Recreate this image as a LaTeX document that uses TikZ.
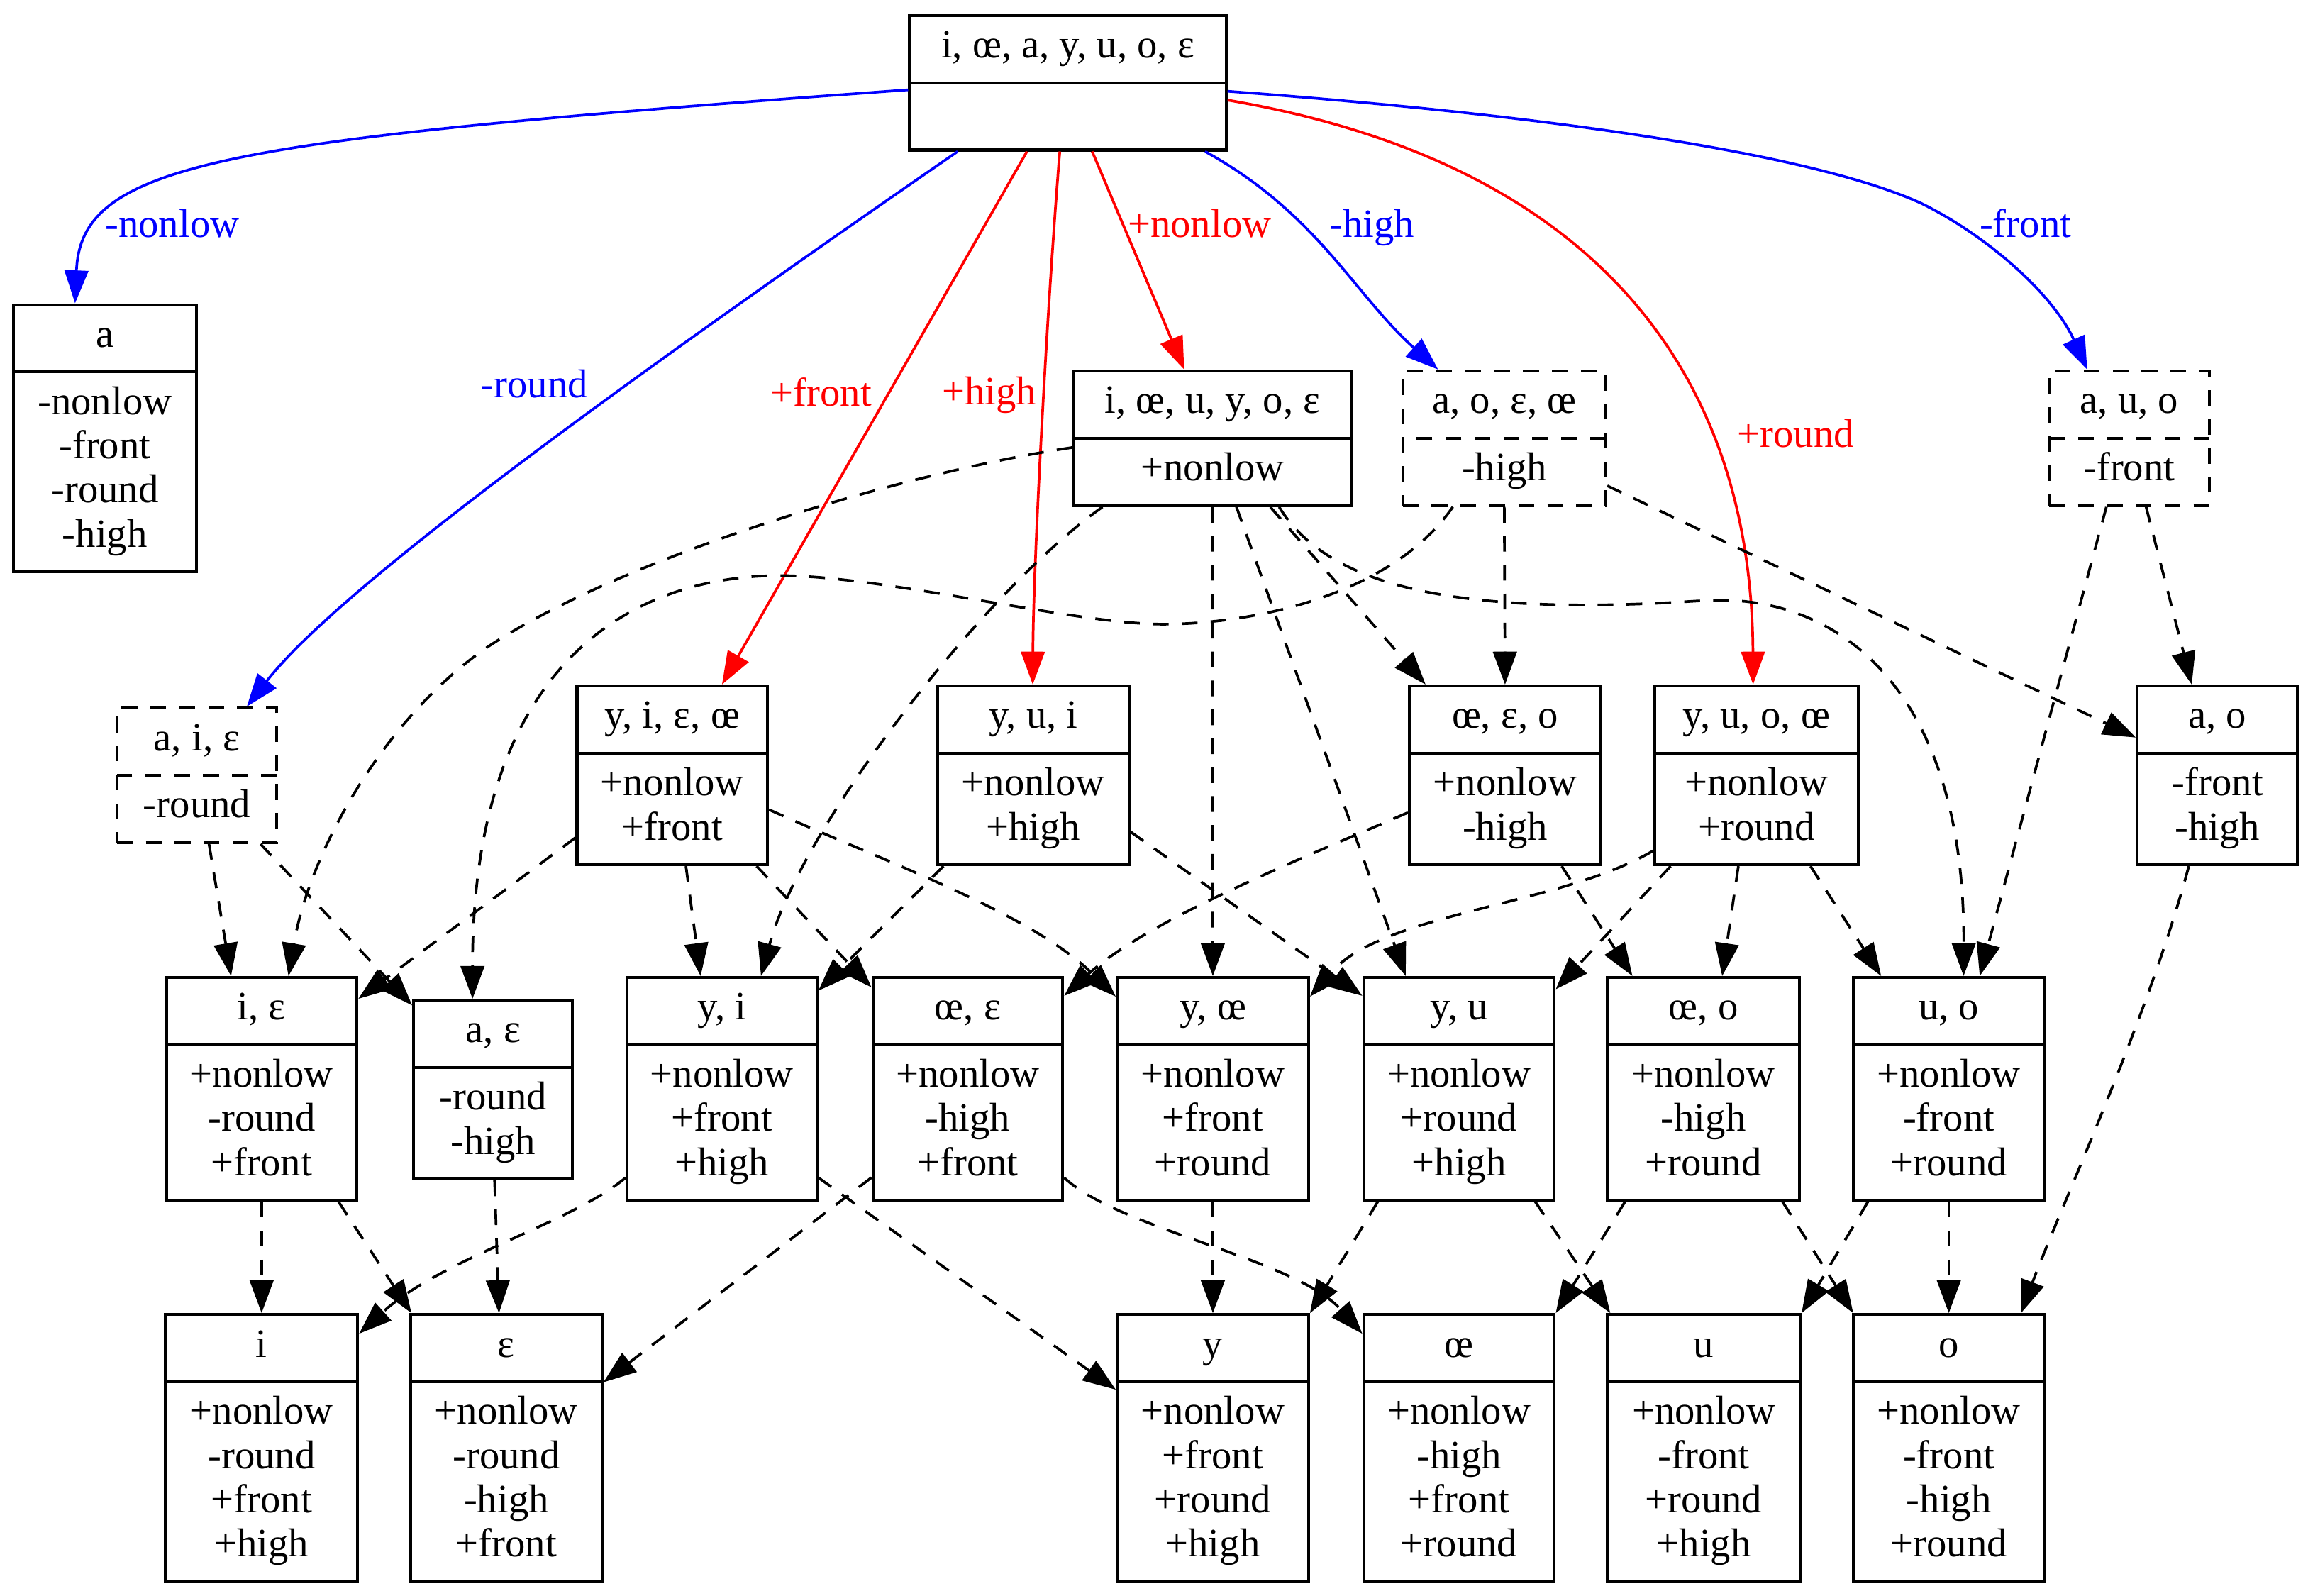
\documentclass[tikz,border=0pt]{standalone}
\usepackage{fontspec}
\setmainfont{Liberation Serif}
\usetikzlibrary{shapes.multipart,arrows.meta,calc}
\begin{document}
\begin{tikzpicture}[x=0.56pt,y=-0.56pt,
  every node/.style={font=\fontsize{15.3}{16.8}\selectfont},
  rec/.style={draw, line width=1.1pt, rectangle split, rectangle split parts=2,
    align=center, inner xsep=2pt, inner ysep=3.85pt, anchor=north west,
    minimum width=#1*0.56pt},
  drec/.style={rec=#1, dash pattern=on 6pt off 5pt},
  e/.style={line width=1pt, -{Triangle[length=12.5pt,width=9pt]}},
  de/.style={e, dash pattern=on 6pt off 5pt},
  bl/.style={e, blue},
  rd/.style={e, red},
  lbl/.style={anchor=base},
]
\useasboundingbox (0,0) rectangle (1568,1084);

% nodes
\node[rec=215] (T) at (617,9.5) {\strut i, œ, a, y, u, o, ε\nodepart{two}\strut};
\node[rec=124.5] (A) at (8,206) {\strut a\nodepart{two}\strut-nonlow\\\strut-front\\\strut-round\\\strut-high};
\node[rec=188.5] (N) at (728.5,251) {\strut i, œ, u, y, o, ε\nodepart{two}\strut+nonlow};
\node[drec=138] (Hm) at (952,251) {\strut a, o, ε, œ\nodepart{two}\strut-high};
\node[drec=109] (Fm) at (1391,251) {\strut a, u, o\nodepart{two}\strut-front};
\node[drec=108.5] (Rm) at (78.5,480) {\strut a, i, ε\nodepart{two}\strut-round};
\node[rec=129.5] (P1) at (391,465) {\strut y, i, ε, œ\nodepart{two}\strut+nonlow\\\strut+front};
\node[rec=130] (P2) at (636,465) {\strut y, u, i\nodepart{two}\strut+nonlow\\\strut+high};
\node[rec=130] (P3) at (956.5,465) {\strut œ, ε, o\nodepart{two}\strut+nonlow\\\strut-high};
\node[rec=138.5] (P4) at (1123,465) {\strut y, u, o, œ\nodepart{two}\strut+nonlow\\\strut+round};
\node[rec=109] (AO) at (1451,465) {\strut a, o\nodepart{two}\strut-front\\\strut-high};
\node[rec=129.5] (IE) at (112,663) {\strut i, ε\nodepart{two}\strut+nonlow\\\strut-round\\\strut+front};
\node[rec=108] (AE) at (280,678.5) {\strut a, ε\nodepart{two}\strut-round\\\strut-high};
\node[rec=129] (YI) at (425,663) {\strut y, i\nodepart{two}\strut+nonlow\\\strut+front\\\strut+high};
\node[rec=129] (OEE) at (592,663) {\strut œ, ε\nodepart{two}\strut+nonlow\\\strut-high\\\strut+front};
\node[rec=130] (YOE) at (758,663) {\strut y, œ\nodepart{two}\strut+nonlow\\\strut+front\\\strut+round};
\node[rec=129.5] (YU) at (925.5,663) {\strut y, u\nodepart{two}\strut+nonlow\\\strut+round\\\strut+high};
\node[rec=130.5] (OEO) at (1091,663) {\strut œ, o\nodepart{two}\strut+nonlow\\\strut-high\\\strut+round};
\node[rec=130] (UO) at (1258,663) {\strut u, o\nodepart{two}\strut+nonlow\\\strut-front\\\strut+round};
\node[rec=130.5] (I) at (111.5,892) {\strut i\nodepart{two}\strut+nonlow\\\strut-round\\\strut+front\\\strut+high};
\node[rec=130] (E) at (278,892) {\strut ε\nodepart{two}\strut+nonlow\\\strut-round\\\strut-high\\\strut+front};
\node[rec=130] (Y) at (758,892) {\strut y\nodepart{two}\strut+nonlow\\\strut+front\\\strut+round\\\strut+high};
\node[rec=129.5] (OE) at (925.5,892) {\strut œ\nodepart{two}\strut+nonlow\\\strut-high\\\strut+front\\\strut+round};
\node[rec=131] (U) at (1091,892) {\strut u\nodepart{two}\strut+nonlow\\\strut-front\\\strut+round\\\strut+high};
\node[rec=130] (O) at (1258,892) {\strut o\nodepart{two}\strut+nonlow\\\strut-front\\\strut-high\\\strut+round};

% coloured edges
\draw[bl] ($(T.north west)+(0,51.5)$) .. controls (150,95) and (55,110) .. ($(A.north west)+(43,0)$);
\node[lbl,blue] (lnl) at (117,161) {-nonlow};
\draw[bl] ($(T.south west)+(33.6,0)$) .. controls (420,262) and (230,400) .. ($(Rm.north west)+(89.2,0)$);
\node[lbl,blue] (lrd) at (363,270) {-round};
\draw[rd] ($(T.south west)+(80.7,0)$) -- ($(P1.north west)+(99.5,0)$);
\node[lbl,red] (lfr) at (558,276) {+front};
\draw[rd] ($(T.south west)+(103,0)$) .. controls (712,200) and (702,380) .. ($(P2.north west)+(65.6,0)$);
\node[lbl,red] (lhi) at (672,275) {+high};
\draw[rd] ($(T.south west)+(125,0)$) -- ($(N.north west)+(76,0)$);
\node[lbl,red] (lnn) at (815,161) {+nonlow};
\draw[bl] ($(T.south west)+(201.7,0)$) .. controls (895,145) and (920,200) .. ($(Hm.north west)+(25,0)$);
\node[lbl,blue] (lhm) at (932,161) {-high};
\draw[rd] ($(T.north east)+(0,58.5)$) .. controls (1080,110) and (1190,250) .. ($(P4.north west)+(68,0)$);
\node[lbl,red] (lro) at (1220,304) {+round};
\draw[bl] ($(T.north east)+(0,52.5)$) .. controls (1050,78) and (1230,104) .. (1305,138) .. controls (1350,160) and (1395,200) .. ($(Fm.north west)+(27,0)$);
\node[lbl,blue] (lfm) at (1376,161) {-front};

% dashed edges, upper levels
\draw[de] ($(N.north west)+(0,53)$) .. controls (620,320) and (430,375) .. (332,439) .. controls (260,488) and (210,580) .. ($(IE.north west)+(84,0)$);
\draw[de] ($(N.south west)+(20.5,0)$) .. controls (670,400) and (545,560) .. ($(YI.north west)+(92,0)$);
\draw[de] (N.south) -- (YOE.north);
\draw[de] ($(N.south west)+(111.5,0)$) -- ($(YU.north west)+(29.5,0)$);
\draw[de] ($(N.south west)+(134.5,0)$) -- ($(P3.north west)+(12,0)$);
\draw[de] ($(N.south west)+(140.5,0)$) .. controls (900,395) and (980,420) .. (1157,408) .. controls (1250,402) and (1335,470) .. ($(UO.north west)+(76,0)$);
\draw[de] (Hm.south) -- (P3.north);
\draw[de] ($(Hm.north east)+(0,79)$) -- ($(AO.north west)+(0,36)$);
\draw[de] ($(Hm.south west)+(35,0)$) .. controls (945,405) and (850,424) .. (790,424) .. controls (730,424) and (600,391) .. (530,391) .. controls (440,391) and (321,440) .. ($(AE.north west)+(41,0)$);
\draw[de] ($(Fm.south west)+(40,0)$) -- ($(UO.north west)+(87,0)$);
\draw[de] ($(Fm.south west)+(67,0)$) -- ($(AO.north west)+(38,0)$);
\draw[de] ($(Rm.south west)+(63.5,0)$) -- ($(IE.north west)+(45,0)$);
\draw[de] ($(Rm.south west)+(98.5,0)$) -- ($(AE.north west)+(0,4.5)$);
\draw[de] ($(P1.north west)+(0,104)$) -- ($(IE.north east)+(0,15.5)$);
\draw[de] ($(P1.south west)+(75,0)$) -- ($(YI.north west)+(51,0)$);
\draw[de] ($(P1.south west)+(123,0)$) -- ($(OEE.north west)+(0,7.7)$);
\draw[de] ($(P1.north east)+(0,85)$) .. controls (600,585) and (700,620) .. ($(YOE.north west)+(0,14)$);
\draw[de] ($(P2.south west)+(5,0)$) -- ($(YI.north east)+(0,10)$);
\draw[de] ($(P2.north east)+(0,100)$) -- ($(YU.north west)+(0,13.5)$);
\draw[de] ($(P3.north west)+(0,87)$) .. controls (880,585) and (780,625) .. ($(OEE.north east)+(0,13.5)$);
\draw[de] ($(P3.south west)+(104.5,0)$) -- ($(OEO.north west)+(18,0)$);
\draw[de] ($(P4.north west)+(0,113)$) .. controls (1060,615) and (940,620) .. ($(YOE.north east)+(0,14)$);
\draw[de] ($(P4.south west)+(12,0)$) -- ($(YU.north east)+(0,9)$);
\draw[de] ($(P4.south west)+(58,0)$) -- ($(OEO.north west)+(79,0)$);
\draw[de] ($(P4.south west)+(107,0)$) -- ($(UO.north west)+(20,0)$);
\draw[de] ($(AO.south west)+(36,0)$) .. controls (1460,690) and (1400,820) .. ($(O.north west)+(115,0)$);

% dashed edges, lowest level
\draw[de] (IE.south) -- (I.north);
\draw[de] ($(IE.south west)+(118,0)$) -- ($(E.north west)+(1.5,0)$);
\draw[de] ($(AE.south west)+(56,0)$) -- ($(E.north west)+(61,0)$);
\draw[de] ($(YI.north west)+(0,137)$) .. controls (390,830) and (300,855) .. ($(I.north east)+(0,14)$);
\draw[de] ($(OEE.north west)+(0,137)$) -- ($(E.north east)+(0,47)$);
\draw[de] ($(YI.north east)+(0,137)$) -- ($(Y.north west)+(0,52)$);
\draw[de] ($(OEE.north east)+(0,137)$) .. controls (760,835) and (880,855) .. ($(OE.north west)+(0,14)$);
\draw[de] (YOE.south) -- (Y.north);
\draw[de] ($(YU.south west)+(10.5,0)$) -- (Y.north east);
\draw[de] ($(YU.south west)+(117.5,0)$) -- ($(U.north west)+(3,0)$);
\draw[de] ($(OEO.south west)+(13,0)$) -- (OE.north east);
\draw[de] ($(OEO.south west)+(120,0)$) -- ($(O.north west)+(1,0)$);
\draw[de] ($(UO.south west)+(11,0)$) -- (U.north east);
\draw[de] (UO.south) -- (O.north);
\end{tikzpicture}
\end{document}
